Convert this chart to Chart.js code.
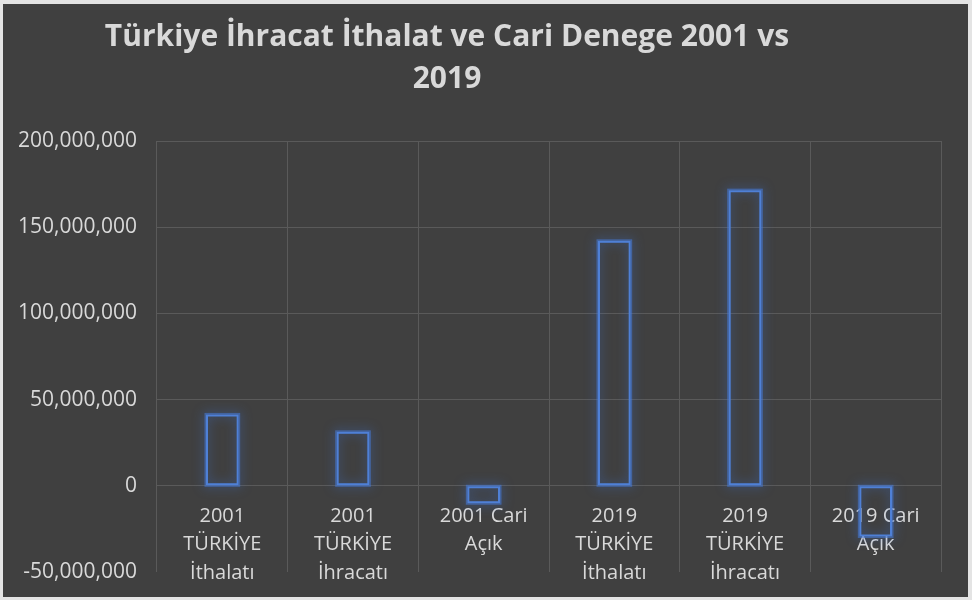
<!DOCTYPE html>
<html>
<head>
<meta charset="utf-8">
<script src="https://cdn.jsdelivr.net/npm/chart.js@4/dist/chart.umd.min.js"></script>
<style>
    html, body { margin: 0; padding: 0; background: #e4e4e4; }
    #box { position: absolute; left: 3px; top: 4px; width: 965px; height: 593px; background: #404040; }
</style>
</head>
<body>
<div id="box"><canvas id="chart1" width="965" height="593"></canvas></div>
<script>
var titleLines = ['Türkiye İhracat İthalat ve Cari Denege 2001 vs', '2019'];
var categories = [
    ['2001', 'TÜRKİYE', 'İthalatı'],
    ['2001', 'TÜRKİYE', 'İhracatı'],
    ['2001 Cari', 'Açık'],
    ['2019', 'TÜRKİYE', 'İthalatı'],
    ['2019', 'TÜRKİYE', 'İhracatı'],
    ['2019 Cari', 'Açık']
];
var values = [41400000, 31300000, -10100000, 142100000, 171500000, -29400000];
var yMin = -50000000;
var yMax = 200000000;
var yStep = 50000000;

var textColor = '#d9d9d9';
var gridColor = '#5a5a5a';

// glow behind the bar outlines
var glowPlugin = {
    id: 'glow',
    beforeDatasetsDraw(chart) {
        var ctx = chart.ctx;
        var meta = chart.getDatasetMeta(0);
        ctx.save();
        ctx.shadowColor = 'rgba(60, 120, 230, 0.95)';
        ctx.shadowBlur = 11;
        ctx.strokeStyle = 'rgba(70, 120, 210, 0.6)';
        ctx.lineWidth = 3;
        meta.data.forEach((bar) => {
            var p = bar.getProps(['x', 'y', 'base', 'width'], true);
            var top = Math.min(p.y, p.base);
            var h = Math.abs(p.base - p.y);
            ctx.strokeRect(p.x - p.width / 2, top, p.width, h);
        });
        ctx.restore();
    }
};

// title centred a bit left of the canvas, like the original
var titlePlugin = {
    id: 'leftTitle',
    afterDraw(chart) {
        var ctx = chart.ctx;
        ctx.save();
        ctx.font = 'bold 30px "Open Sans"';
        ctx.fillStyle = textColor;
        ctx.textAlign = 'center';
        ctx.textBaseline = 'middle';
        ctx.fillText(titleLines[0], 444, 33);
        ctx.fillText(titleLines[1], 444, 75);
        ctx.restore();
    }
};

var ctx1 = document.getElementById('chart1').getContext('2d');
var chart1 = new Chart(ctx1, {
    type: 'bar',
    data: {
        labels: categories,
        datasets: [{
            data: values,
            backgroundColor: 'rgba(0, 0, 0, 0)',
            borderColor: '#4f80d6',
            borderWidth: 2,
            borderSkipped: false,
            barPercentage: 0.25,
            categoryPercentage: 1
        }]
    },
    options: {
        responsive: false,
        animation: false,
        layout: {
            padding: { left: 0, right: 27, top: 137, bottom: 25 }
        },
        plugins: {
            legend: { display: false },
            tooltip: { enabled: false },
            title: { display: false }
        },
        scales: {
            x: {
                position: { y: 0 },
                grid: { color: gridColor, drawTicks: false, offset: true },
                border: { display: false },
                ticks: {
                    color: textColor,
                    font: { family: 'Open Sans', size: 20, lineHeight: 1.42 },
                    padding: 16,
                    maxRotation: 0,
                    autoSkip: false
                }
            },
            y: {
                min: yMin,
                max: yMax,
                afterFit(scale) { scale.width = 154; },
                grid: {
                    drawTicks: true,
                    tickLength: 20,
                    tickColor: 'rgba(0,0,0,0)',
                    color: (c) => c.tick && c.tick.value === yMin ? 'rgba(0,0,0,0)' : gridColor
                },
                border: { display: false },
                ticks: {
                    stepSize: yStep,
                    color: textColor,
                    padding: 0,
                    font: { family: 'Open Sans', size: 21 },
                    callback: (v) => v.toLocaleString('en-US')
                }
            }
        }
    },
    plugins: [glowPlugin, titlePlugin]
});
</script>
</body>
</html>
